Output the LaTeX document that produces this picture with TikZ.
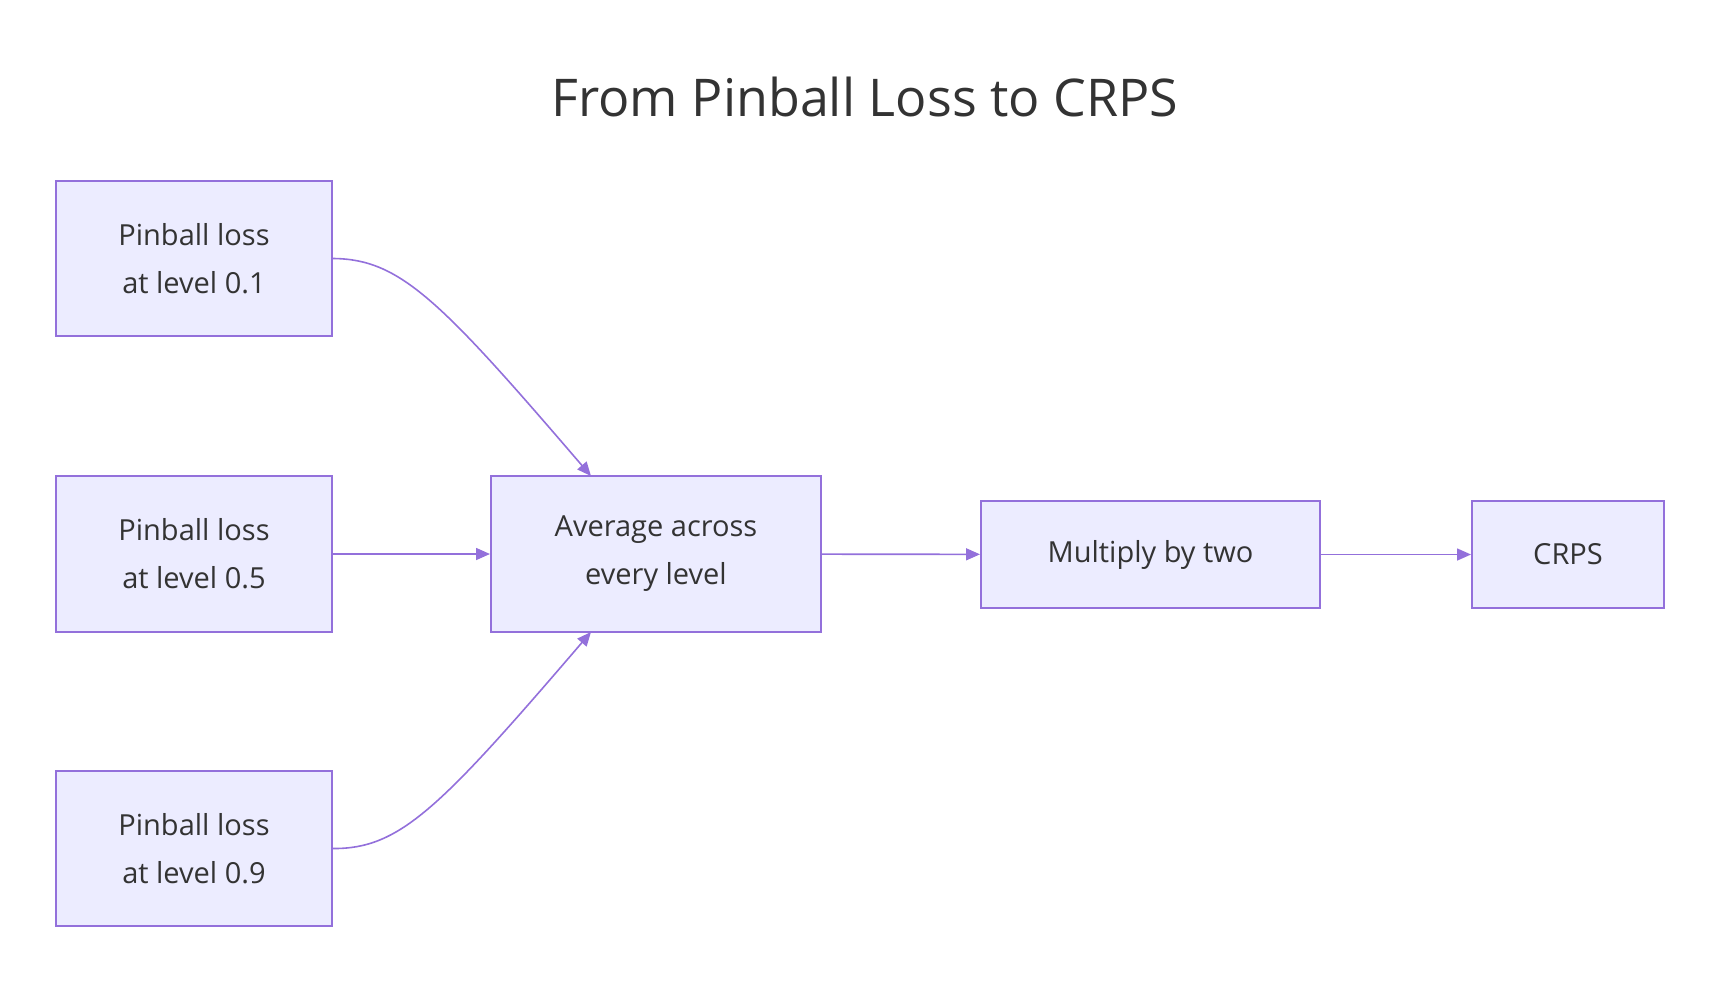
\documentclass[tikz,border=0pt]{standalone}
\usepackage{fontspec}
\setmainfont{Open Sans}
\usetikzlibrary{arrows.meta}
\definecolor{bx}{HTML}{ECECFF}
\definecolor{st}{HTML}{9370DB}
\definecolor{tx}{HTML}{333333}
\begin{document}
\begin{tikzpicture}[x=1pt,y=-1pt,
  box/.style={draw=st,fill=bx,line width=2pt,text=tx,font=\fontsize{29}{48}\selectfont,align=center,inner sep=0pt},
  ar/.style={draw=st,line width=1.6pt,-{Triangle[length=14pt,width=12pt]}}]
\useasboundingbox (0,0) rectangle (1736,986);
\node[text=tx,font=\fontsize{52}{60}\selectfont] (t) at (865,97) {From Pinball Loss to CRPS};
\node[box,minimum width=276,minimum height=155] (a) at (194,258.5) {Pinball loss\\at level 0.1};
\node[box,minimum width=276,minimum height=156] (b) at (194,554) {Pinball loss\\at level 0.5};
\node[box,minimum width=276,minimum height=155] (c) at (194,848.5) {Pinball loss\\at level 0.9};
\node[box,minimum width=330,minimum height=156] (m) at (656,554) {Average across\\every level};
\node[box,minimum width=339,minimum height=107] (x) at (1150.5,554.5) {Multiply by two};
\node[box,minimum width=192,minimum height=107] (r) at (1568,554.5) {CRPS};
\coordinate (mt) at (591,476);
\coordinate (mb) at (591,632);
\draw[ar] (a.east) .. controls (400,259) and (440,300) .. (mt);
\draw[ar] (c.east) .. controls (400,849) and (440,808) .. (mb);
\draw[ar] (b) -- (m);
\draw[ar] (m) -- (x);
\draw[ar] (x) -- (r);
\end{tikzpicture}
\end{document}
